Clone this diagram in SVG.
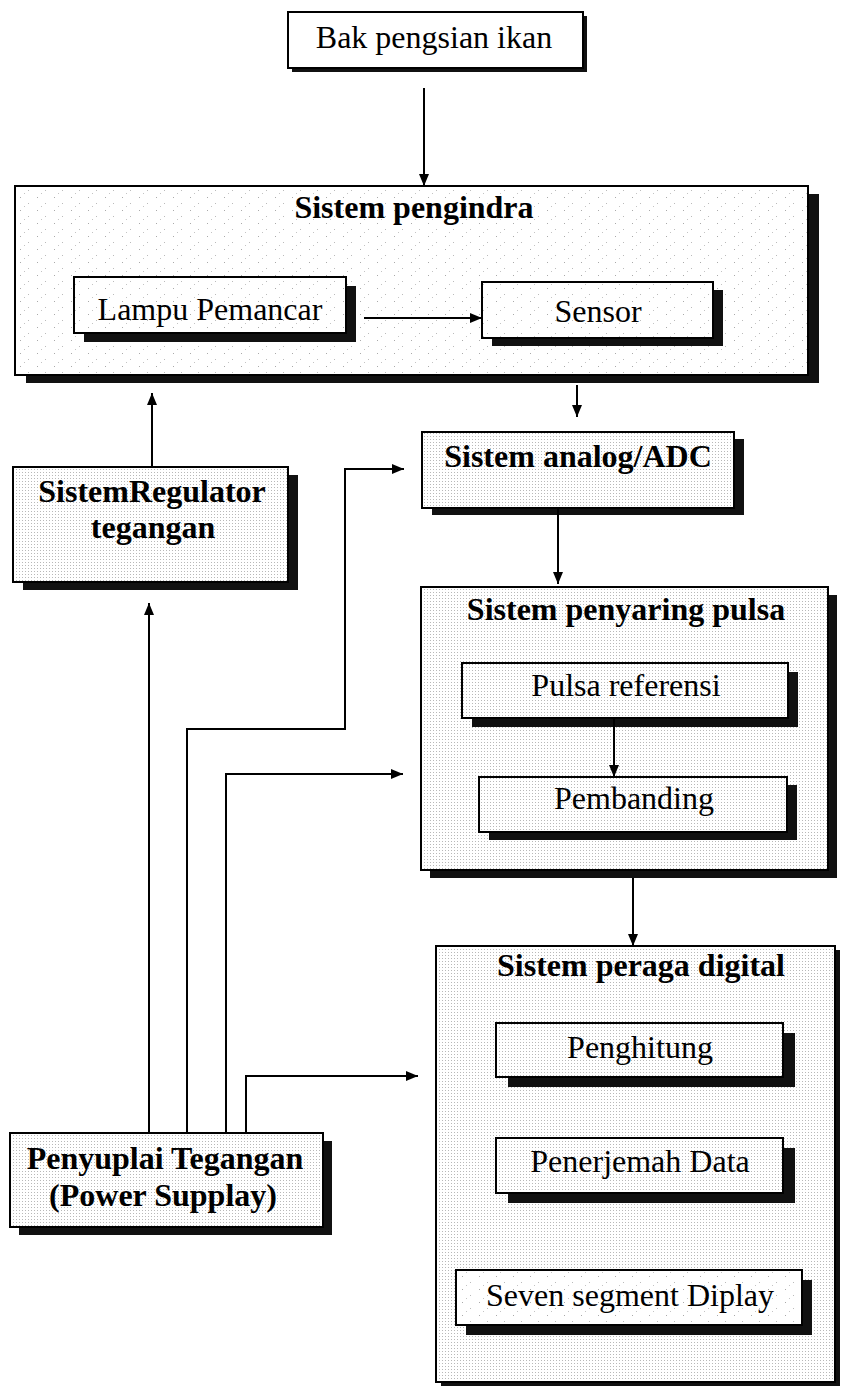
<svg xmlns="http://www.w3.org/2000/svg" width="843" height="1387" viewBox="0 0 843 1387">
<defs>
<pattern id="dots" width="3" height="3" patternUnits="userSpaceOnUse">
<rect width="3" height="3" fill="#fff"/>
<rect x="1" y="1" width="1" height="1" fill="#b8b8b8"/>
</pattern>
<pattern id="speck" width="17" height="13" patternUnits="userSpaceOnUse">
<rect width="17" height="13" fill="#fff"/>
<rect x="3" y="2" width="1" height="1" fill="#aaa"/>
<rect x="11" y="8" width="1" height="1" fill="#bbb"/>
<rect x="7" y="11" width="1" height="1" fill="#c4c4c4"/>
</pattern>
<marker id="ah" viewBox="0 0 12 10" refX="12" refY="5" markerWidth="12" markerHeight="10" markerUnits="userSpaceOnUse" orient="auto">
<path d="M0,0 L12,5 L0,10 z" fill="#000"/>
</marker>
<style>
.sh{fill:#111}
.w{fill:#fff;stroke:#000;stroke-width:2}
.d{fill:url(#dots);stroke:#000;stroke-width:2}
.s{fill:url(#speck);stroke:#000;stroke-width:2}
.t{font-family:"Liberation Serif","Times New Roman",serif;font-size:32px;text-anchor:middle;fill:#000}
.b{font-weight:bold}
.c{fill:none;stroke:#000;stroke-width:2;marker-end:url(#ah)}
</style>
</defs>
<rect width="843" height="1387" fill="#fff"/>

<g id="bak">
<rect class="sh" x="292" y="16" width="295" height="56"/>
<rect class="w" x="288" y="12" width="295" height="56"/>
<text class="t" x="434" y="48">Bak pengsian ikan</text>
</g>

<g id="pengindra">
<rect class="sh" x="26" y="194" width="793" height="189"/>
<rect class="s" x="15" y="186" width="793" height="189"/>
<text class="t b" x="414" y="218">Sistem pengindra</text>
</g>

<g id="lampu">
<rect class="sh" x="84" y="286" width="272" height="56"/>
<rect class="s" x="74" y="277" width="272" height="56"/>
<text class="t" x="210" y="320">Lampu Pemancar</text>
</g>

<g id="sensor">
<rect class="sh" x="492" y="290" width="231" height="56"/>
<rect class="s" x="482" y="282" width="231" height="56"/>
<text class="t" x="598" y="322">Sensor</text>
</g>

<g id="adc">
<rect class="sh" x="432" y="439" width="312" height="76"/>
<rect class="d" x="422" y="432" width="312" height="76"/>
<text class="t b" x="578" y="467">Sistem analog/ADC</text>
</g>

<g id="regulator">
<rect class="sh" x="23" y="475" width="275" height="115"/>
<rect class="d" x="13" y="467" width="275" height="115"/>
<text class="t b" x="152" y="502">SistemRegulator</text>
<text class="t b" x="153" y="538">tegangan</text>
</g>

<g id="penyaring">
<rect class="sh" x="430" y="595" width="407" height="283"/>
<rect class="d" x="421" y="587" width="407" height="283"/>
<text class="t b" x="626" y="620">Sistem penyaring pulsa</text>
</g>

<g id="pulsa">
<rect class="sh" x="472" y="672" width="326" height="55"/>
<rect class="d" x="462" y="663" width="326" height="55"/>
<text class="t" x="626" y="696">Pulsa referensi</text>
</g>

<g id="pembanding">
<rect class="sh" x="489" y="785" width="308" height="55"/>
<rect class="d" x="479" y="777" width="308" height="55"/>
<text class="t" x="634" y="809">Pembanding</text>
</g>

<g id="peraga">
<rect class="sh" x="441" y="950" width="399" height="436"/>
<rect class="d" x="436" y="946" width="399" height="436"/>
<text class="t b" x="641" y="976">Sistem peraga digital</text>
</g>

<g id="penghitung">
<rect class="sh" x="508" y="1033" width="287" height="54"/>
<rect class="d" x="496" y="1023" width="287" height="54"/>
<text class="t" x="640" y="1058">Penghitung</text>
</g>

<g id="penerjemah">
<rect class="sh" x="508" y="1148" width="287" height="55"/>
<rect class="d" x="496" y="1138" width="287" height="55"/>
<text class="t" x="640" y="1172">Penerjemah Data</text>
</g>

<g id="seven">
<rect class="sh" x="466" y="1280" width="346" height="55"/>
<rect class="s" x="456" y="1270" width="346" height="55"/>
<text class="t" x="630" y="1306">Seven segment Diplay</text>
</g>

<g id="penyuplai">
<rect class="sh" x="19" y="1141" width="313" height="94"/>
<rect class="d" x="10" y="1133" width="313" height="94"/>
<text class="t b" x="165" y="1169">Penyuplai Tegangan</text>
<text class="t b" x="163" y="1206">(Power Supplay)</text>
</g>

<g id="connectors">
<path class="c" d="M424,88 V186"/>
<path class="c" d="M364,318 H482"/>
<path class="c" d="M577,385 V417"/>
<path class="c" d="M152,467 V393"/>
<path class="c" d="M149,1133 V603"/>
<path class="c" d="M187,1133 V729 H345 V469 H404"/>
<path class="c" d="M226,1133 V774 H403"/>
<path class="c" d="M246,1133 V1076 H418"/>
<path class="c" d="M558,508 V584"/>
<path class="c" d="M614,718 V777"/>
<path class="c" d="M633,878 V946"/>
</g>
</svg>
